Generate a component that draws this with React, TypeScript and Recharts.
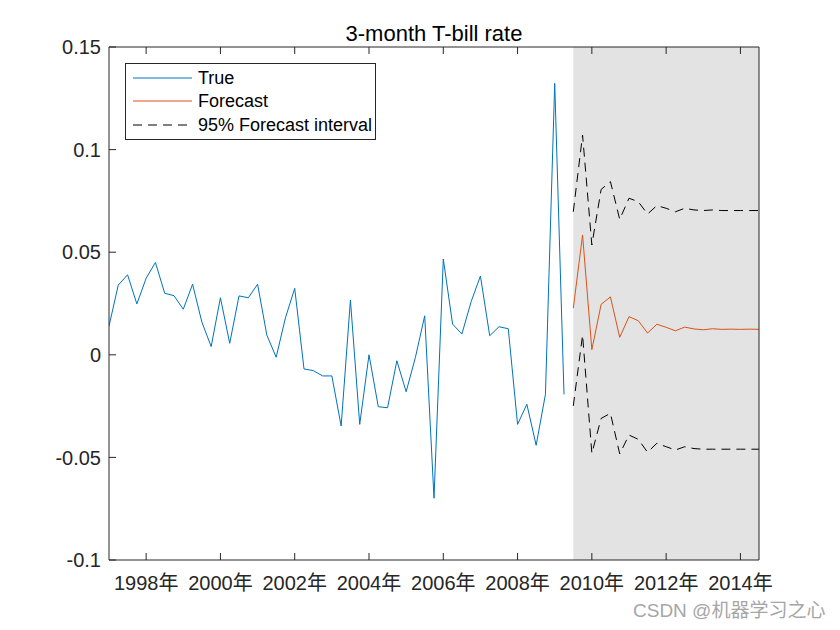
import { LineChart, Line, XAxis, YAxis, ReferenceArea, Legend } from "recharts";

const START_YEAR = 1997;
const xTicks = [1998, 2000, 2002, 2004, 2006, 2008, 2010, 2012, 2014];
const yTicks = [-0.1, -0.05, 0, 0.05, 0.1, 0.15];

// quarterly observations, 1997Q1 .. 2009Q2
const trueVals = [
    0.014, 0.034, 0.039, 0.0248, 0.0373, 0.045, 0.03, 0.0288, 0.0222, 0.0344,
    0.016, 0.004, 0.0278, 0.0056, 0.0287, 0.0278, 0.0344, 0.0096, -0.0012, 0.018,
    0.0324, -0.0069, -0.0077, -0.0103, -0.0103, -0.0347, 0.0267, -0.0339, 0.0, -0.0253,
    -0.0258, -0.0029, -0.018, -0.0012, 0.019, -0.0699, 0.0467, 0.015, 0.0101, 0.0259,
    0.0384, 0.0093, 0.0137, 0.0127, -0.0339, -0.0241, -0.0441, -0.0193, 0.1323, -0.0193,
];

// forecast horizon, 2009Q3 .. 2014Q3
const forecastVals = [
    0.0227, 0.0584, 0.0025, 0.0246, 0.0282, 0.0085, 0.0186, 0.0166, 0.0106, 0.0149,
    0.0134, 0.0117, 0.0135, 0.0126, 0.0122, 0.0127, 0.0124, 0.0125, 0.0124, 0.0125, 0.0124,
];
const upperVals = [
    0.0697, 0.1071, 0.0535, 0.0806, 0.0844, 0.066, 0.0763, 0.0746, 0.0686, 0.0727,
    0.0714, 0.0697, 0.0714, 0.0706, 0.0703, 0.0706, 0.0703, 0.0703, 0.0703, 0.0703, 0.0703,
];
const lowerVals = [
    -0.0249, 0.0096, -0.048, -0.031, -0.0285, -0.0483, -0.0391, -0.0412, -0.0475, -0.0431,
    -0.0448, -0.0464, -0.0448, -0.0457, -0.046, -0.046, -0.046, -0.046, -0.046, -0.046, -0.046,
];

const FONT = "'Liberation Sans', Arial, 'Noto Sans CJK SC', sans-serif";
const AXIS = "#262626";

const total = trueVals.length + forecastVals.length;
const forecastStart = START_YEAR + trueVals.length / 4;
const forecastEnd = START_YEAR + (total - 1) / 4;

const chartData = Array.from({ length: total }, (_, i) => {
    const j = i - trueVals.length;
    return {
        t: START_YEAR + i / 4,
        actual: j < 0 ? trueVals[i] : undefined,
        forecast: j >= 0 ? forecastVals[j] : undefined,
        upper: j >= 0 ? upperVals[j] : undefined,
        lower: j >= 0 ? lowerVals[j] : undefined,
    };
});

const legendItems = [
    { name: "True", color: "#0072BD", dash: undefined },
    { name: "Forecast", color: "#D95319", dash: undefined },
    { name: "95% Forecast interval", color: "#000000", dash: "9 6" },
];

function LegendBox() {
    return (
        <div
            style={{
                border: `1px solid ${AXIS}`,
                background: "#fff",
                width: 249,
                height: 73,
                boxSizing: "content-box",
                paddingTop: 2,
                fontFamily: FONT,
                fontSize: 18,
                color: "#000",
            }}
        >
            {legendItems.map((it) => (
                <div key={it.name} style={{ display: "flex", alignItems: "center", height: 23.5 }}>
                    <svg width={72} height={10} style={{ flex: "none" }}>
                        <line x1={7} x2={66} y1={5} y2={5} stroke={it.color} strokeDasharray={it.dash} />
                    </svg>
                    <span style={{ lineHeight: "20px" }}>{it.name}</span>
                </div>
            ))}
        </div>
    );
}

export default function App() {
    return (
        <div
            style={{
                position: "absolute",
                left: 0,
                top: 0,
                width: 840,
                height: 630,
                background: "#fff",
                fontFamily: FONT,
            }}
        >
            <div
                style={{
                    position: "absolute",
                    left: 109,
                    width: 650,
                    top: 23,
                    textAlign: "center",
                    fontSize: 22,
                    lineHeight: "22px",
                    color: "#000",
                }}
            >
                3-month T-bill rate
            </div>
            <LineChart
                width={840}
                height={630}
                data={chartData}
                margin={{ top: 46, right: 80, bottom: 0, left: 0 }}
                style={{ fontFamily: FONT }}
            >
                <ReferenceArea
                    x1={forecastStart}
                    x2={forecastEnd}
                    yAxisId="left"
                    fill="#e3e3e3"
                    fillOpacity={1}
                    stroke="none"
                />
                <XAxis
                    dataKey="t"
                    type="number"
                    domain={[START_YEAR, forecastEnd]}
                    ticks={xTicks}
                    interval={0}
                    allowDataOverflow
                    tickFormatter={(v) => `${v}年`}
                    height={70}
                    tickSize={-7}
                    tickMargin={23}
                    stroke={AXIS}
                    tick={{ fontSize: 20, fill: AXIS }}
                />
                <XAxis
                    xAxisId="top"
                    dataKey="t"
                    type="number"
                    orientation="top"
                    domain={[START_YEAR, forecastEnd]}
                    ticks={xTicks}
                    interval={0}
                    height={1}
                    tickSize={-7}
                    tickFormatter={() => ""}
                    stroke={AXIS}
                />
                <YAxis
                    yAxisId="left"
                    type="number"
                    domain={[-0.1, 0.15]}
                    ticks={yTicks}
                    interval={0}
                    allowDataOverflow
                    width={109}
                    tickSize={-7}
                    tickMargin={15}
                    stroke={AXIS}
                    tick={{ fontSize: 20, fill: AXIS }}
                />
                <YAxis
                    yAxisId="right"
                    orientation="right"
                    type="number"
                    domain={[-0.1, 0.15]}
                    ticks={yTicks}
                    interval={0}
                    width={1}
                    tickSize={-7}
                    tickFormatter={() => ""}
                    stroke={AXIS}
                />
                <Legend
                    layout="vertical"
                    align="center"
                    verticalAlign="middle"
                    content={() => <LegendBox />}
                    wrapperStyle={{ left: 125, top: 63, width: "auto", height: "auto" }}
                />
                <Line
                    yAxisId="left"
                    dataKey="actual"
                    name="True"
                    stroke="#0072BD"
                    strokeWidth={1}
                    dot={false}
                    activeDot={false}
                    isAnimationActive={false}
                />
                <Line
                    yAxisId="left"
                    dataKey="forecast"
                    name="Forecast"
                    stroke="#D95319"
                    strokeWidth={1}
                    dot={false}
                    activeDot={false}
                    isAnimationActive={false}
                />
                <Line
                    yAxisId="left"
                    dataKey="upper"
                    name="95% Forecast interval"
                    stroke="#000"
                    strokeWidth={1}
                    strokeDasharray="9 6"
                    dot={false}
                    activeDot={false}
                    isAnimationActive={false}
                />
                <Line
                    yAxisId="left"
                    dataKey="lower"
                    name="lower"
                    legendType="none"
                    stroke="#000"
                    strokeWidth={1}
                    strokeDasharray="9 6"
                    dot={false}
                    activeDot={false}
                    isAnimationActive={false}
                />
            </LineChart>
            <div
                style={{
                    position: "absolute",
                    left: 633,
                    top: 601,
                    fontSize: 19,
                    lineHeight: "19px",
                    color: "#a6a6a6",
                    whiteSpace: "nowrap",
                }}
            >
                CSDN @机器学习之心
            </div>
        </div>
    );
}
